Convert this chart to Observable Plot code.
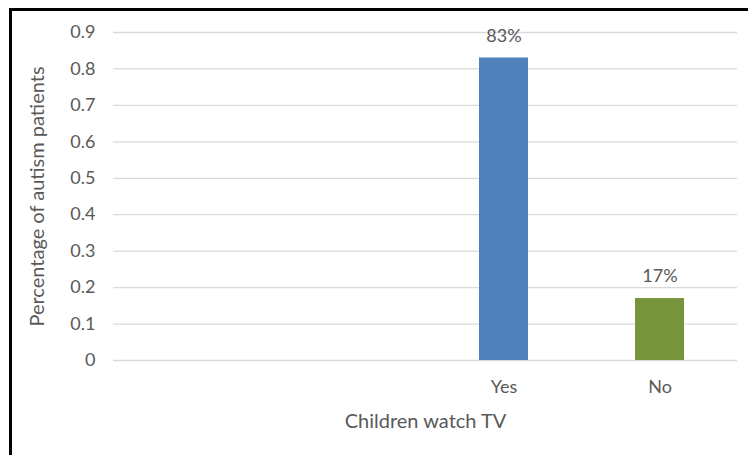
<!DOCTYPE html>
<html>
<head>
<meta charset="utf-8">
<script src="https://cdn.jsdelivr.net/npm/d3@7"></script>
<script src="https://cdn.jsdelivr.net/npm/@observablehq/plot@0.6"></script>
<style>
  html, body { margin: 0; padding: 0; background: #fff; overflow: hidden; }
  #wrap { position: relative; width: 748px; height: 455px; }
  #border { position: absolute; left: 9px; top: 8px; width: 800px; height: 500px;
            border-top: 3px solid #000; border-left: 3px solid #000; pointer-events: none; }
  svg { font-family: Lato, "Open Sans", sans-serif; }
</style>
</head>
<body>
<div id="wrap"><div id="border"></div></div>
<script>
const categories = ["", " ", "Yes", "No"];
const barCategories = ["Yes", "No"];
const barValues = [0.83, 0.17];
const barLabels = ["83%", "17%"];
const barColors = ["#4F81BD", "#77933C"];
const yTicks = [0, 0.1, 0.2, 0.3, 0.4, 0.5, 0.6, 0.7, 0.8, 0.9];
const xTitle = "Children watch TV";
const yTitle = "Percentage of autism patients";

const data = barCategories.map((c, i) => ({cat: c, value: barValues[i], label: barLabels[i], color: barColors[i]}));
const textColor = "#595959";

const chart = Plot.plot({
  width: 748,
  height: 455,
  marginLeft: 113,
  marginRight: 11,
  marginTop: 32,
  marginBottom: 95,
  style: {fontFamily: "Lato, 'Open Sans', sans-serif", background: "transparent", overflow: "visible"},
  x: {domain: categories, paddingInner: 0.686, paddingOuter: 0.343, label: null},
  y: {domain: [0, 0.9], label: null},
  marks: [
    Plot.gridY(yTicks, {stroke: "#D9D9D9", strokeOpacity: 1, strokeWidth: 1.3}),
    Plot.barY(data, {x: "cat", y: "value", fill: "color"}),
    Plot.text(data, {x: "cat", y: "value", text: "label", dy: -22, fill: textColor, fontSize: 18}),
    Plot.axisY(yTicks, {tickSize: 0, tickPadding: 18, fill: textColor, fontSize: 18, tickFormat: d => d === 0 ? "0" : d3.format(".1f")(d), label: null}),
    Plot.axisX({tickSize: 0, tickPadding: 20, fill: textColor, fontSize: 18, label: null}),
    Plot.text([xTitle], {frameAnchor: "bottom", textAnchor: "middle", dy: 61, fill: textColor, fontSize: 20, lineAnchor: "middle"}),
    Plot.text([yTitle], {frameAnchor: "left", textAnchor: "middle", dx: -76, rotate: -90, fill: textColor, fontSize: 20, lineAnchor: "middle"})
  ]
});
document.getElementById("wrap").prepend(chart);
</script>
</body>
</html>
